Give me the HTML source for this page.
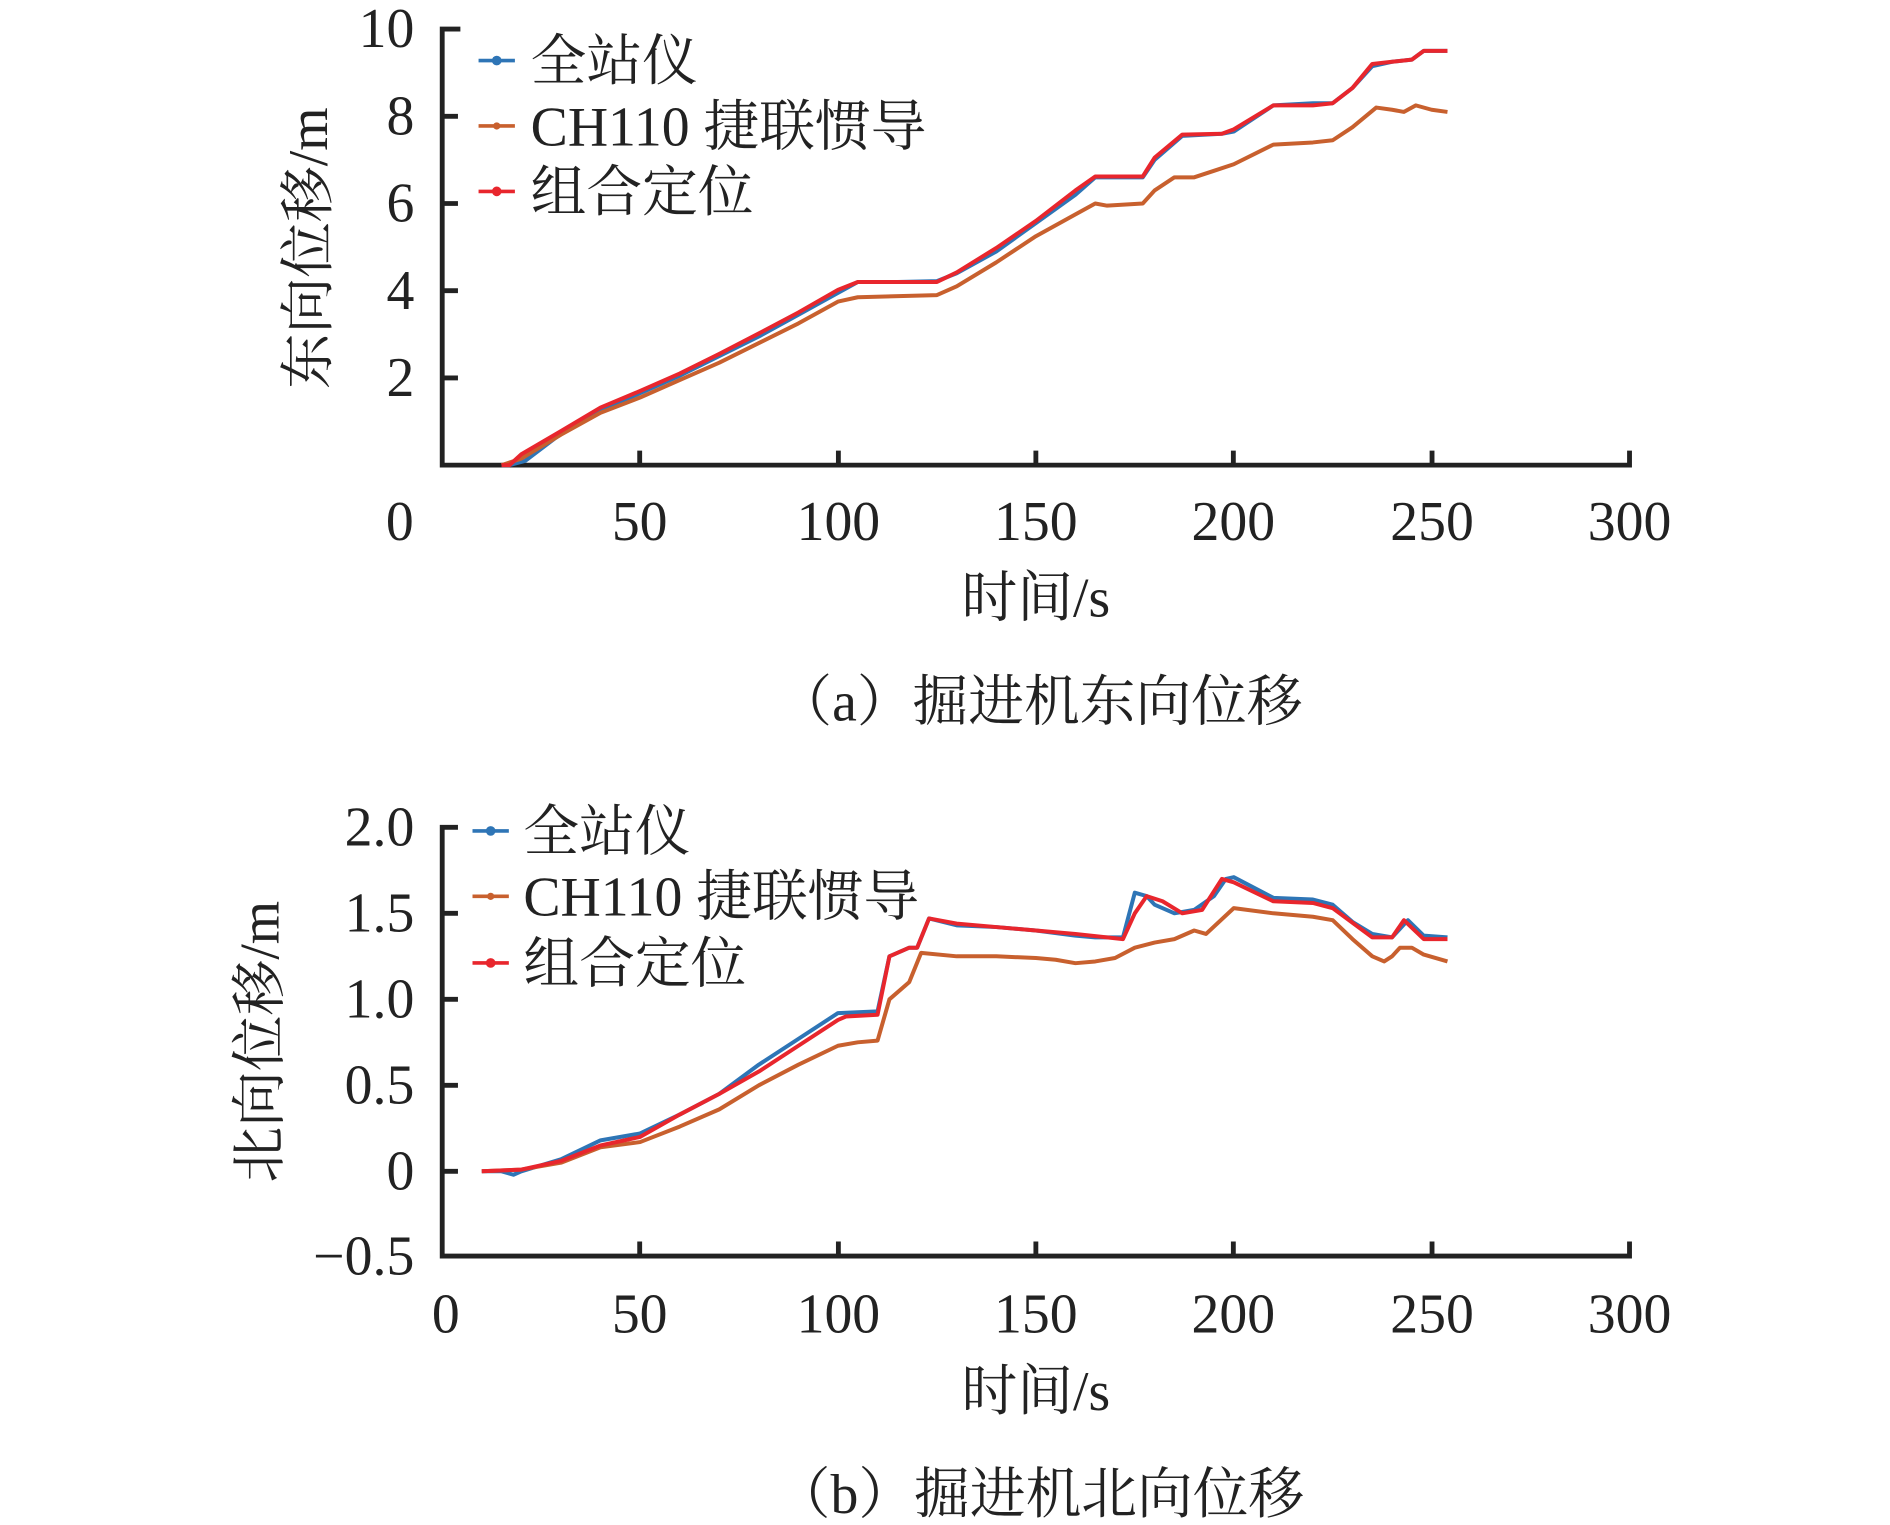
<!DOCTYPE html>
<html><head><meta charset="utf-8"><style>
html,body{margin:0;padding:0;background:#fff;}
svg{display:block}
text{font-family:"Liberation Serif","Noto Serif CJK SC",serif;fill:#222}
.l{fill:none;stroke-width:4;vector-effect:non-scaling-stroke;stroke-linejoin:round}
</style></head><body>
<svg width="1890" height="1525" viewBox="0 0 1560 1259" preserveAspectRatio="none" xmlns="http://www.w3.org/2000/svg">
<!-- Top chart -->
<g stroke="#222" stroke-width="4" fill="none">
<path d="M380,24 H365 V384 H1345 V372"/>
<path d="M365,96 H378 M365,168 H378 M365,240 H378 M365,312 H378"/>
<path d="M528,384 V372 M692,384 V372 M855,384 V372 M1018,384 V372 M1182,384 V372"/>
</g>
<g font-size="46" text-anchor="end">
<text x="342" y="39">10</text><text x="342" y="111">8</text><text x="342" y="183">6</text><text x="342" y="255">4</text><text x="342" y="327">2</text>
</g>
<g font-size="46" text-anchor="middle">
<text x="330" y="446">0</text><text x="528" y="446">50</text><text x="692" y="446">100</text><text x="855" y="446">150</text><text x="1018" y="446">200</text><text x="1182" y="446">250</text><text x="1345" y="446">300</text>
<text x="855" y="509">时间/s</text>
<text x="858" y="595">（a）掘进机东向位移</text>
</g>
<text font-size="46" text-anchor="middle" transform="translate(270,205) rotate(-90)">东向位移/m</text>
<g font-size="46">
<line x1="395" y1="50" x2="425" y2="50" stroke="#2e75b6" stroke-width="3"/><circle cx="410" cy="50" r="4" fill="#2e75b6"/>
<text x="438" y="66">全站仪</text>
<line x1="395" y1="104" x2="425" y2="104" stroke="#c8602e" stroke-width="3"/><circle cx="410" cy="104" r="3" fill="#c8602e"/>
<text x="438" y="120">CH110 捷联惯导</text>
<line x1="395" y1="158" x2="425" y2="158" stroke="#e8262d" stroke-width="3"/><circle cx="410" cy="158" r="4" fill="#e8262d"/>
<text x="438" y="174">组合定位</text>
</g>
<g transform="translate(365,384) scale(3.2667,-36)">
<polyline class="l" stroke="#2e75b6" points="15,0 17,0 21,0.1 30,0.72 40,1.25 50,1.65 60,2.05 70,2.5 80,2.95 90,3.45 100,3.95 105,4.2 115,4.2 125,4.22 130,4.4 140,4.9 150,5.55 160,6.2 165,6.6 177,6.6 180,7.0 187,7.55 197,7.6 200,7.65 210,8.25 220,8.3 225,8.3 230,8.65 235,9.15 240,9.25 245,9.3 248,9.5 254,9.5"/>
<polyline class="l" stroke="#c8602e" points="15,0 20,0.15 30,0.7 40,1.2 50,1.55 60,1.95 70,2.35 80,2.8 90,3.25 100,3.75 105,3.85 125,3.9 130,4.1 140,4.65 150,5.25 160,5.75 165,6.0 168,5.95 177,6.0 180,6.3 185,6.6 190,6.6 195,6.75 200,6.9 210,7.35 220,7.4 225,7.45 230,7.75 236,8.2 240,8.15 243,8.1 246,8.25 250,8.15 254,8.1"/>
<polyline class="l" stroke="#e8262d" points="15,0 17,0 20,0.25 30,0.78 40,1.32 50,1.7 60,2.1 70,2.55 80,3.02 90,3.5 100,4.02 105,4.2 115,4.2 125,4.2 130,4.42 140,4.98 150,5.6 160,6.3 165,6.62 177,6.62 180,7.05 187,7.58 197,7.6 200,7.7 210,8.25 220,8.25 225,8.3 230,8.65 235,9.2 240,9.25 245,9.3 248,9.5 254,9.5"/>
</g>
<!-- Bottom chart -->
<g stroke="#222" stroke-width="4" fill="none">
<path d="M378,683 H365 V1037 H1345 V1025"/>
<path d="M365,754 H378 M365,825 H378 M365,896 H378 M365,967 H378"/>
<path d="M528,1037 V1025 M692,1037 V1025 M855,1037 V1025 M1018,1037 V1025 M1182,1037 V1025"/>
</g>
<g font-size="46" text-anchor="end">
<text x="342" y="698">2.0</text><text x="342" y="769">1.5</text><text x="342" y="840">1.0</text><text x="342" y="911">0.5</text><text x="342" y="982">0</text><text x="342" y="1052">−0.5</text>
</g>
<g font-size="46" text-anchor="middle">
<text x="368" y="1100">0</text><text x="528" y="1100">50</text><text x="692" y="1100">100</text><text x="855" y="1100">150</text><text x="1018" y="1100">200</text><text x="1182" y="1100">250</text><text x="1345" y="1100">300</text>
<text x="855" y="1164">时间/s</text>
<text x="858" y="1249">（b）掘进机北向位移</text>
</g>
<text font-size="46" text-anchor="middle" transform="translate(230,860) rotate(-90)">北向位移/m</text>
<g font-size="46">
<line x1="390" y1="686" x2="420" y2="686" stroke="#2e75b6" stroke-width="3"/><circle cx="405" cy="686" r="4" fill="#2e75b6"/>
<text x="432" y="702">全站仪</text>
<line x1="390" y1="740" x2="420" y2="740" stroke="#c8602e" stroke-width="3"/><circle cx="405" cy="740" r="3" fill="#c8602e"/>
<text x="432" y="756">CH110 捷联惯导</text>
<line x1="390" y1="795" x2="420" y2="795" stroke="#e8262d" stroke-width="3"/><circle cx="405" cy="795" r="4" fill="#e8262d"/>
<text x="432" y="811">组合定位</text>
</g>
<g transform="translate(365,967) scale(3.2667,-142)">
<polyline class="l" stroke="#2e75b6" points="10,0 15,0 18,-0.02 20,0 30,0.07 40,0.18 50,0.22 60,0.33 70,0.45 80,0.62 90,0.77 100,0.92 110,0.93 113,1.25 118,1.3 120,1.3 123,1.47 130,1.43 140,1.42 150,1.4 160,1.37 165,1.36 172,1.36 175,1.62 178,1.6 180,1.55 185,1.5 190,1.52 195,1.6 198,1.7 200,1.71 210,1.59 220,1.58 225,1.55 230,1.45 235,1.38 240,1.36 244,1.46 248,1.37 254,1.36"/>
<polyline class="l" stroke="#c8602e" points="10,0 20,0.01 30,0.05 40,0.14 50,0.17 60,0.26 70,0.36 80,0.5 90,0.62 100,0.73 105,0.75 110,0.76 113,1.0 118,1.1 121,1.27 130,1.25 140,1.25 150,1.24 155,1.23 160,1.21 165,1.22 170,1.24 175,1.3 180,1.33 185,1.35 190,1.4 193,1.38 200,1.53 210,1.5 220,1.48 225,1.46 230,1.35 235,1.25 238,1.22 240,1.25 242,1.3 245,1.3 248,1.26 254,1.22"/>
<polyline class="l" stroke="#e8262d" points="10,0 20,0.01 30,0.06 40,0.15 50,0.2 60,0.33 70,0.45 80,0.58 90,0.73 100,0.88 102,0.9 110,0.91 113,1.25 118,1.3 120,1.3 123,1.47 130,1.44 140,1.42 150,1.4 160,1.38 172,1.35 175,1.5 178,1.6 182,1.57 187,1.5 192,1.52 197,1.7 200,1.68 210,1.57 220,1.56 225,1.53 235,1.36 240,1.36 243,1.46 248,1.35 254,1.35"/>
</g>
</svg>
</body></html>
